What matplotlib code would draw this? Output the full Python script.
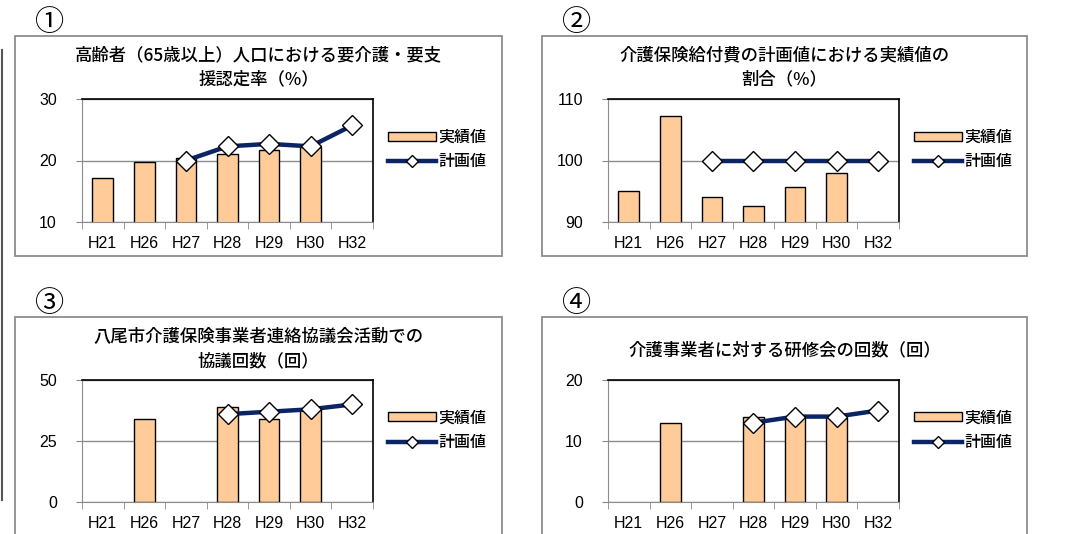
import numpy as np
import matplotlib
matplotlib.use("Agg")
import matplotlib.pyplot as plt
from matplotlib.patches import Rectangle
from matplotlib.lines import Line2D

plt.rcParams['font.family'] = ['Liberation Sans', 'Noto Sans CJK JP', 'DejaVu Sans']

nan = np.nan

# data
years = ['H21', 'H26', 'H27', 'H28', 'H29', 'H30', 'H32']

cert_actual = [17.2, 19.8, 20.4, 21.1, 21.7, 22.2, nan]
cert_plan = [nan, nan, 20.0, 22.3, 22.7, 22.3, 25.7]

benefit_actual = [95.0, 107.3, 94.0, 92.6, 95.7, 97.9, nan]
benefit_plan = [nan, nan, 100, 100, 100, 100, 100]

council_actual = [nan, 34, nan, 39, 34, 38, nan]
council_plan = [nan, nan, nan, 36, 37, 38, 40]

training_actual = [nan, 13, nan, 14, 14, 14, nan]
training_plan = [nan, nan, nan, 13, 14, 14, 15]

titles = [
    '高齢者（65歳以上）人口における要介護・要支\n援認定率（%）',
    '介護保険給付費の計画値における実績値の\n割合（%）',
    '八尾市介護保険事業者連絡協議会活動での\n協議回数（回）',
    '介護事業者に対する研修会の回数（回）',
]
numbers = ['①', '②', '③', '④']
yticks = [[10, 20, 30], [90, 100, 110], [0, 25, 50], [0, 10, 20]]
legend_labels = ['実績値', '計画値']

BAR = '#FFCC99'
LINE = '#0b2466'
JP = ['Noto Sans CJK JP', 'DejaVu Sans']

W, H = 1068, 534
fig = plt.figure(figsize=(W / 100, H / 100), dpi=100)


def px_axes(x0, y0, x1, y1):
    return fig.add_axes([x0 / W, 1 - y1 / H, (x1 - x0) / W, (y1 - y0) / H])


def frame(x0, y0, x1, y1):
    fig.patches.append(Rectangle((x0 / W, 1 - y1 / H), (x1 - x0) / W, (y1 - y0) / H,
                                 transform=fig.transFigure, fill=False,
                                 edgecolor='#8c8c8c', linewidth=1.3))


# left edge line of the page
fig.add_artist(Line2D([1.5 / W, 1.5 / W], [1 - 50 / H, 1 - 500 / H],
                      transform=fig.transFigure, color='#555555', linewidth=1.5))

# (box x0, box y0, box x1, box y1, plot x0, plot y0, plot x1, plot y1, title y)
layout = [
    (15, 36, 502, 256, 82, 99, 373, 222, 67),
    (542, 36, 1027, 256, 608, 99, 899, 222, 67),
    (15, 317, 502, 560, 82, 380, 373, 502, 349),
    (542, 317, 1027, 560, 608, 380, 899, 502, 350),
]
actuals = [cert_actual, benefit_actual, council_actual, training_actual]
plans = [cert_plan, benefit_plan, council_plan, training_plan]

x = np.arange(len(years))
for i in range(4):
    bx0, by0, bx1, by1, px0, py0, px1, py1, ty = layout[i]
    frame(bx0, by0, bx1, by1)
    fig.text((bx0 + 35) / W, 1 - (by0 - 13) / H, numbers[i], family=JP,
             fontsize=21, ha='center', va='center')
    fig.text((bx0 + bx1) / 2 / W, 1 - ty / H, titles[i], family=JP,
             fontsize=12.5, ha='center', va='center', linespacing=1.45,
             fontweight='medium')

    ax = px_axes(px0, py0, px1, py1)
    bars = ax.bar(x, actuals[i], width=0.5, color=BAR, edgecolor='black',
                  linewidth=1.0, label=legend_labels[0], zorder=2)
    line, = ax.plot(x, plans[i], color=LINE, linewidth=3.2, marker='D', markersize=10,
                    markerfacecolor='white', markeredgecolor='black', markeredgewidth=1.0,
                    label=legend_labels[1], zorder=3, clip_on=False)

    ax.set_xlim(-0.5, len(years) - 0.5)
    ax.set_ylim(yticks[i][0], yticks[i][-1])
    ax.set_yticks(yticks[i])
    ax.set_xticks(x)
    ax.set_xticklabels(years)
    ax.set_xticks(np.arange(-0.5, len(years)), minor=True)
    ax.tick_params(axis='x', which='major', length=0, pad=10, labelsize=11.5)
    ax.tick_params(axis='x', which='minor', length=5, color='#888888')
    ax.tick_params(axis='y', length=4, color='#888888', pad=14, labelsize=11.5)
    ax.yaxis.grid(True, color='#8c8c8c', linewidth=1.0, zorder=0)
    ax.set_axisbelow(True)
    for side in ['left', 'bottom']:
        ax.spines[side].set_color('#8c8c8c')
    for side in ['top', 'right']:
        ax.spines[side].set_color('black')
        ax.spines[side].set_linewidth(1.2)

    ax.legend([bars, line], legend_labels, loc='center left',
              bbox_to_anchor=(1.025, 0.59), frameon=False,
              handlelength=3.0, handleheight=0.5, handletextpad=0.15,
              borderpad=0, labelspacing=0.45, markerscale=0.6,
              prop={'family': JP, 'size': 11.5, 'weight': 'medium'})

fig.savefig('out.png', dpi=100)
